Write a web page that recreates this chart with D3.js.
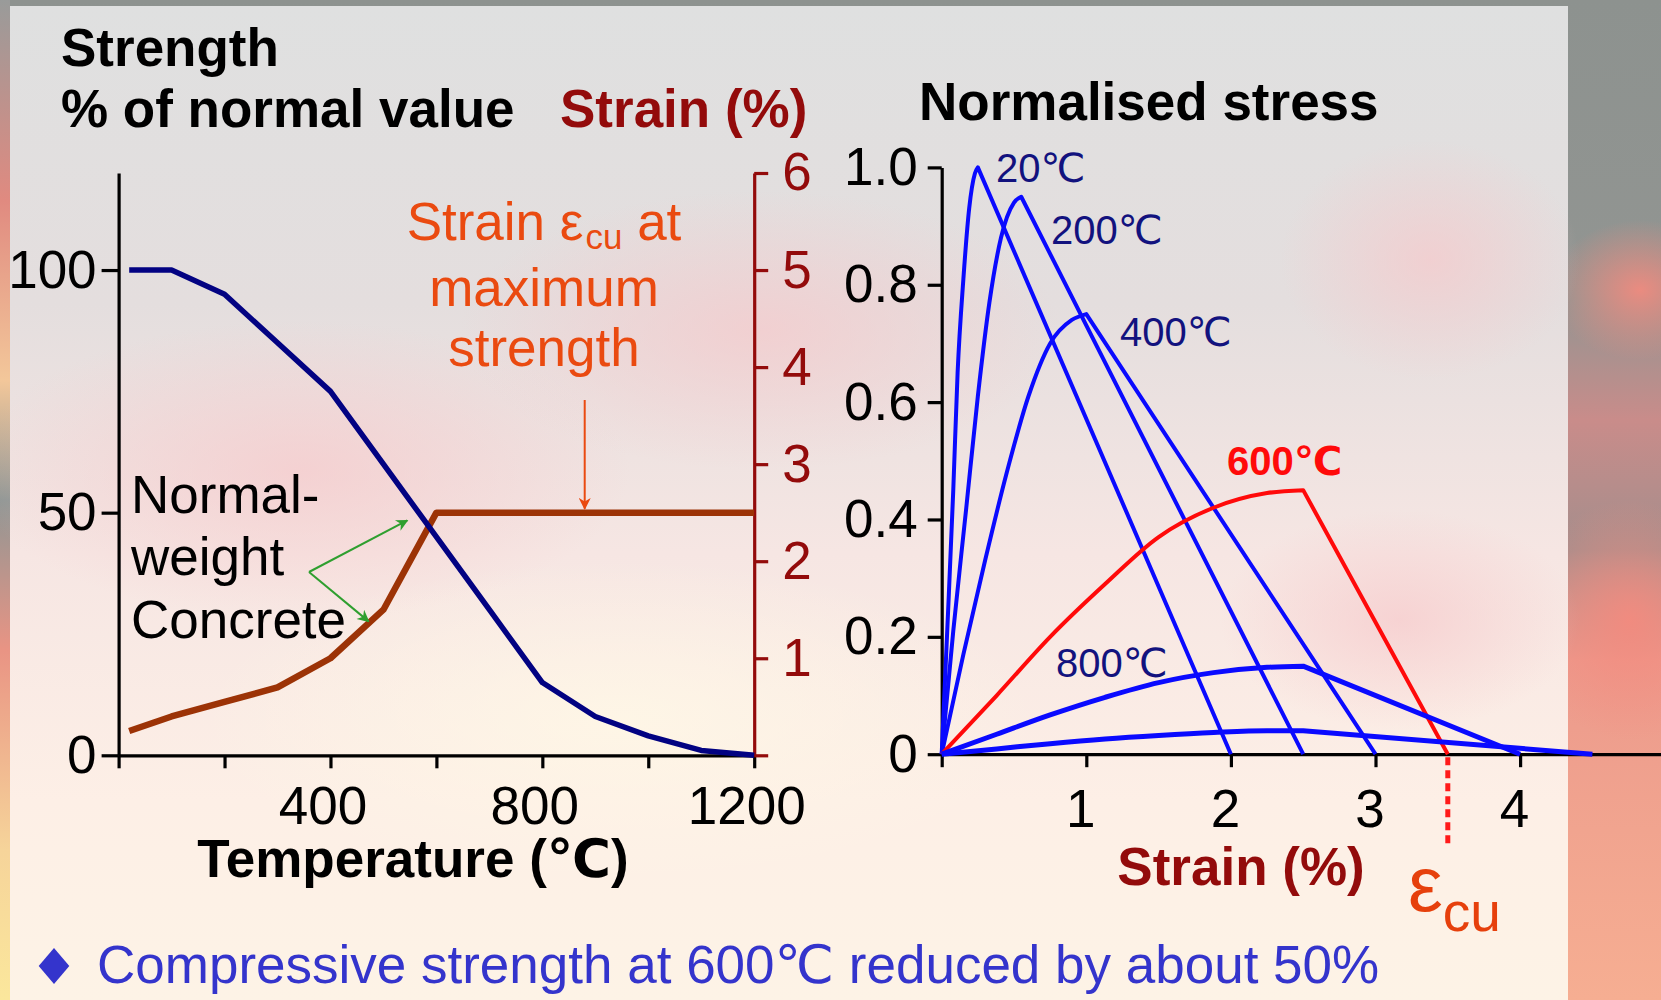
<!DOCTYPE html>
<html>
<head>
<meta charset="utf-8">
<script src="https://cdn.jsdelivr.net/npm/d3@7"></script>
<style>
  body { margin: 0; }
  svg { display: block; font-family: "Liberation Sans", Arial, Helvetica, "DejaVu Sans", sans-serif; }
</style>
</head>
<body>
<svg id="chart" width="1661" height="1000"></svg>
<script>
'use strict';

// --- left chart: EC2 siliceous concrete at elevated temperature
var temps = [20, 100, 200, 300, 400, 500, 600, 700, 800, 900, 1000, 1100, 1200];
var strengthPct = [100, 100, 95, 85, 75, 60, 45, 30, 15, 8, 4, 1, 0];
var strainAtPeak = [0.25, 0.4, 0.55, 0.7, 1.0, 1.5, 2.5, 2.5, 2.5, 2.5, 2.5, 2.5, 2.5];
var tempTicks = [0, 200, 400, 600, 800, 1000, 1200];
var tempLabels = [400, 800, 1200];
var strengthTicks = [0, 50, 100];
var strainTicks = [0, 1, 2, 3, 4, 5, 6];

// --- right chart: normalised stress-strain curves (strain %, stress)
// rising branch up to the peak, then straight down to the last point
var curveNames = ['20', '200', '400', '600', '800', '1000'];
var curve20 = [[0, 0], [0.04, 0.22], [0.08, 0.45], [0.11, 0.65], [0.15, 0.81], [0.19, 0.93], [0.23, 0.99], [0.25, 1.0], [2.0, 0]];
var curve200 = [[0, 0], [0.08, 0.21], [0.17, 0.42], [0.25, 0.61], [0.33, 0.77], [0.41, 0.88], [0.5, 0.94], [0.55, 0.95], [2.5, 0]];
var curve400 = [[0, 0], [0.15, 0.17], [0.3, 0.33], [0.45, 0.48], [0.6, 0.61], [0.75, 0.70], [0.9, 0.74], [1.0, 0.75], [3.0, 0]];
var curve600 = [[0, 0], [0.38, 0.10], [0.75, 0.20], [1.13, 0.29], [1.5, 0.37], [1.88, 0.42], [2.25, 0.445], [2.5, 0.45], [3.5, 0]];
var curve800 = [[0, 0], [0.38, 0.034], [0.75, 0.067], [1.13, 0.097], [1.5, 0.122], [1.88, 0.139], [2.25, 0.148], [2.5, 0.15], [4.0, 0]];
var curve1000 = [[0, 0], [0.38, 0.009], [0.75, 0.018], [1.13, 0.026], [1.5, 0.032], [1.88, 0.037], [2.25, 0.04], [2.5, 0.04], [4.5, 0]];
var stressTicks = [0, 0.2, 0.4, 0.6, 0.8, 1.0];
var strainPctTicks = [0, 1, 2, 3, 4];
var ecu600 = 3.5;

var svg = d3.select('#chart');
var defs = svg.append('defs');

// ---------- background (flame photo behind a pale panel)
function linGrad(id, stops, vertical) {
  var g = defs.append('linearGradient').attr('id', id)
    .attr('x1', 0).attr('y1', 0).attr('x2', vertical ? 0 : 1).attr('y2', vertical ? 1 : 0);
  stops.forEach(function(s) { g.append('stop').attr('offset', s[0]).attr('stop-color', s[1]); });
}
function radGrad(id, color, op) {
  var g = defs.append('radialGradient').attr('id', id);
  g.append('stop').attr('offset', 0).attr('stop-color', color).attr('stop-opacity', op);
  g.append('stop').attr('offset', 1).attr('stop-color', color).attr('stop-opacity', 0);
}
linGrad('rightStrip', [[0, '#8d928f'], [0.3, '#929592'], [0.42, '#c98c8a'], [0.55, '#a48e8c'], [0.66, '#ec9a8c'], [1, '#f6ae92']], true);
linGrad('leftStrip', [[0, '#999b9a'], [0.2, '#e08a80'], [0.38, '#f3c79a'], [0.5, '#8f9694'], [0.65, '#e99484'], [0.85, '#f6d49a'], [1, '#fbe79c']], true);
linGrad('panel', [[0, '#dfe0e0'], [0.3, '#e4dede'], [0.55, '#f6e6e3'], [0.8, '#fdefe6'], [1, '#fdf3e6']], true);
radGrad('pinkBlob', '#f6c9cb', 0.7);
radGrad('creamBlob', '#fff8e6', 0.8);
radGrad('flameBlob', '#f48a7e', 0.9);

svg.append('rect').attr('width', 1661).attr('height', 1000).attr('fill', 'url(#rightStrip)');
svg.append('ellipse').attr('cx', 1640).attr('cy', 290).attr('rx', 90).attr('ry', 70).attr('fill', 'url(#flameBlob)');
svg.append('ellipse').attr('cx', 1630).attr('cy', 620).attr('rx', 110).attr('ry', 120).attr('fill', 'url(#flameBlob)');
svg.append('rect').attr('width', 10).attr('height', 1000).attr('fill', 'url(#leftStrip)');
svg.append('rect').attr('x', 10).attr('y', 6).attr('width', 1558).attr('height', 994).attr('fill', 'url(#panel)');
svg.append('ellipse').attr('cx', 300).attr('cy', 470).attr('rx', 330).attr('ry', 150).attr('fill', 'url(#pinkBlob)');
svg.append('ellipse').attr('cx', 760).attr('cy', 330).attr('rx', 300).attr('ry', 140).attr('fill', 'url(#pinkBlob)');
svg.append('ellipse').attr('cx', 1430).attr('cy', 260).attr('rx', 150).attr('ry', 120).attr('fill', 'url(#pinkBlob)');
svg.append('ellipse').attr('cx', 1400).attr('cy', 620).attr('rx', 180).attr('ry', 110).attr('fill', 'url(#pinkBlob)');
svg.append('ellipse').attr('cx', 620).attr('cy', 720).attr('rx', 420).attr('ry', 160).attr('fill', 'url(#creamBlob)');

// ---------- arrow markers
function marker(id, color, w, h) {
  defs.append('marker').attr('id', id)
    .attr('viewBox', '0 0 10 10').attr('refX', 9).attr('refY', 5)
    .attr('markerUnits', 'userSpaceOnUse')
    .attr('markerWidth', w).attr('markerHeight', h).attr('orient', 'auto')
    .append('path').attr('d', 'M0,0 L10,5 L0,10 L3,5 Z').attr('fill', color);
}
marker('arrowOrange', '#ea4a10', 14, 12);
marker('arrowGreen', '#2f9f2f', 14, 12);

// ---------- left chart
var xT = d3.scaleLinear().domain([0, 1200]).range([118.6, 754.2]);
var yS = d3.scaleLinear().domain([0, 120]).range([755.3, 173]);
var yE = d3.scaleLinear().domain([0, 6]).range([755.3, 173]);

var left = svg.append('g');

function styleAxis(g, color, size) {
  g.select('.domain').attr('stroke', color).attr('stroke-width', 3.2);
  g.selectAll('.tick line').attr('stroke', color).attr('stroke-width', 3.2);
  g.selectAll('.tick text').attr('fill', color).style('font-size', size + 'px');
  g.attr('font-family', null);
}

left.append('g')
  .attr('transform', 'translate(' + xT.range()[0] + ',0)')
  .call(d3.axisLeft(yS).tickValues(strengthTicks).tickSize(17).tickSizeOuter(0).tickPadding(5))
  .call(styleAxis, '#000', 53);

left.append('g')
  .attr('transform', 'translate(0,' + yS(0) + ')')
  .call(d3.axisBottom(xT).tickValues(tempTicks).tickSize(13).tickSizeOuter(0).tickPadding(18)
    .tickFormat(function(d) { return tempLabels.indexOf(d) >= 0 ? d : ''; }))
  .call(styleAxis, '#000', 53)
  .selectAll('.tick text').attr('dx', -8);

left.append('g')
  .attr('transform', 'translate(' + xT.range()[1] + ',0)')
  .call(d3.axisRight(yE).tickValues(strainTicks).tickSize(14).tickSizeOuter(0).tickPadding(14)
    .tickFormat(function(d) { return d === 0 ? '' : d; }))
  .call(styleAxis, '#930b0b', 53);

var strengthLine = d3.line()
  .x(function(d, i) { return xT(temps[i]); })
  .y(function(d) { return yS(d); });
var strainLine = d3.line()
  .x(function(d, i) { return xT(temps[i]); })
  .y(function(d) { return yE(d); });

left.append('path').datum(strainAtPeak)
  .attr('d', strainLine).attr('fill', 'none')
  .attr('stroke', '#9c3306').attr('stroke-width', 6.5).attr('stroke-linejoin', 'round');
left.append('path').datum(strengthPct)
  .attr('d', strengthLine).attr('fill', 'none')
  .attr('stroke', '#020282').attr('stroke-width', 5.5).attr('stroke-linejoin', 'round');

// titles
left.append('text').attr('x', 61).attr('y', 66).text('Strength')
  .style('font-size', '53px').style('font-weight', 'bold');
left.append('text').attr('x', 61).attr('y', 127).text('% of normal value')
  .style('font-size', '53px').style('font-weight', 'bold');
left.append('text').attr('x', 560).attr('y', 127).text('Strain (%)')
  .style('font-size', '53px').style('font-weight', 'bold').attr('fill', '#930b0b');
left.append('text').attr('x', 413).attr('y', 877).attr('text-anchor', 'middle').text('Temperature (\u2103)')
  .style('font-size', '53px').style('font-weight', 'bold');

// annotation: strain at maximum strength
var ann1 = left.append('text').attr('x', 544).attr('y', 240).attr('text-anchor', 'middle')
  .attr('fill', '#ea4a10').style('font-size', '53px');
ann1.append('tspan').text('Strain \u03b5');
ann1.append('tspan').text('cu').attr('dx', 2).attr('dy', 9).style('font-size', '35px');
ann1.append('tspan').text(' at').attr('dy', -9);
left.append('text').attr('x', 544).attr('y', 306).attr('text-anchor', 'middle')
  .attr('fill', '#ea4a10').style('font-size', '53px').text('maximum');
left.append('text').attr('x', 544).attr('y', 366).attr('text-anchor', 'middle')
  .attr('fill', '#ea4a10').style('font-size', '53px').text('strength');
left.append('line')
  .attr('x1', xT(880)).attr('x2', xT(880)).attr('y1', 400).attr('y2', yE(2.5) - 4)
  .attr('stroke', '#ea4a10').attr('stroke-width', 2).attr('marker-end', 'url(#arrowOrange)');

// annotation: normal-weight concrete
var nwc = left.append('text').style('font-size', '53px').attr('fill', '#000');
nwc.append('tspan').attr('x', 131).attr('y', 513).text('Normal-');
nwc.append('tspan').attr('x', 131).attr('y', 575).text('weight');
nwc.append('tspan').attr('x', 131).attr('y', 638).text('Concrete');
left.append('line')
  .attr('x1', 309).attr('y1', 572).attr('x2', xT(545)).attr('y2', yE(2.42))
  .attr('stroke', '#2f9f2f').attr('stroke-width', 2).attr('marker-end', 'url(#arrowGreen)');
left.append('line')
  .attr('x1', 309).attr('y1', 572).attr('x2', xT(472)).attr('y2', yE(1.38))
  .attr('stroke', '#2f9f2f').attr('stroke-width', 2).attr('marker-end', 'url(#arrowGreen)');

// ---------- right chart
var xS = d3.scaleLinear().domain([0, 5]).range([941.7, 1664.7]);
var yN = d3.scaleLinear().domain([0, 1]).range([754.2, 167.4]);

var right = svg.append('g');

right.append('g')
  .attr('transform', 'translate(' + xS(0) + ',0)')
  .call(d3.axisLeft(yN).tickValues(stressTicks).tickSize(14).tickSizeOuter(0).tickPadding(10)
    .tickFormat(function(d) { return d === 0 ? '0' : d3.format('.1f')(d); }))
  .call(styleAxis, '#000', 53);

right.append('g')
  .attr('transform', 'translate(0,' + yN(0) + ')')
  .call(d3.axisBottom(xS).tickValues(strainPctTicks).tickSize(13).tickSizeOuter(0).tickPadding(22)
    .tickFormat(function(d) { return d === 0 ? '' : d; }))
  .call(styleAxis, '#000', 53)
  .selectAll('.tick text').attr('dx', -6);

var riseLine = d3.line()
  .x(function(d) { return xS(d[0]); })
  .y(function(d) { return yN(d[1]); })
  .curve(d3.curveMonotoneX);

function stressPath(d) {
  var last = d[d.length - 1];
  return riseLine(d.slice(0, -1)) + 'L' + xS(last[0]) + ',' + yN(last[1]);
}

var curves = [curve20, curve200, curve400, curve600, curve800, curve1000];
right.selectAll('path.curve')
  .data(curves)
  .enter()
  .append('path')
  .attr('class', 'curve')
  .attr('d', stressPath)
  .attr('fill', 'none')
  .attr('stroke', function(d, i) { return curveNames[i] === '600' ? '#ff0a0a' : '#0a0aff'; })
  .attr('stroke-width', function(d, i) { return i >= 4 ? 5 : 4; })
  .attr('stroke-linejoin', 'round');

// epsilon_cu marker for 600 C
right.append('line')
  .attr('x1', xS(ecu600)).attr('x2', xS(ecu600)).attr('y1', yN(0) + 3).attr('y2', 848)
  .attr('stroke', '#ff1a1a').attr('stroke-width', 5).attr('stroke-dasharray', '8,5');
var eps = right.append('text').attr('x', 1408).attr('y', 911).attr('fill', '#e6400c');
eps.append('tspan').text('\u03b5').style('font-size', '78px');
eps.append('tspan').text('cu').attr('dy', 20).style('font-size', '55px');

// curve labels
var labelSpec = [
  { t: '20', x: 996, y: 182, c: '#12127e', b: false },
  { t: '200', x: 1051, y: 244, c: '#12127e', b: false },
  { t: '400', x: 1120, y: 346, c: '#12127e', b: false },
  { t: '600', x: 1227, y: 475, c: '#ff0a0a', b: true },
  { t: '800', x: 1056, y: 677, c: '#12127e', b: false }
];
right.selectAll('text.clabel')
  .data(labelSpec)
  .enter()
  .append('text')
  .attr('class', 'clabel')
  .attr('x', function(d) { return d.x; })
  .attr('y', function(d) { return d.y; })
  .attr('fill', function(d) { return d.c; })
  .style('font-size', '40px')
  .style('font-weight', function(d) { return d.b ? 'bold' : 'normal'; })
  .text(function(d) { return d.t + '\u2103'; });

right.append('text').attr('x', 919).attr('y', 120).text('Normalised stress')
  .style('font-size', '53px').style('font-weight', 'bold');
right.append('text').attr('x', 1241).attr('y', 885).attr('text-anchor', 'middle').text('Strain (%)')
  .style('font-size', '53px').style('font-weight', 'bold').attr('fill', '#930b0b');

// ---------- bullet line
svg.append('path')
  .attr('d', d3.symbol().type(d3.symbolDiamond).size(520))
  .attr('transform', 'translate(54,966) scale(1.25,0.85)')
  .attr('fill', '#3434cc');
svg.append('text').attr('x', 97).attr('y', 983)
  .text('Compressive strength at 600\u2103 reduced by about 50%')
  .style('font-size', '53px').attr('fill', '#3434cc');
</script>
</body>
</html>
